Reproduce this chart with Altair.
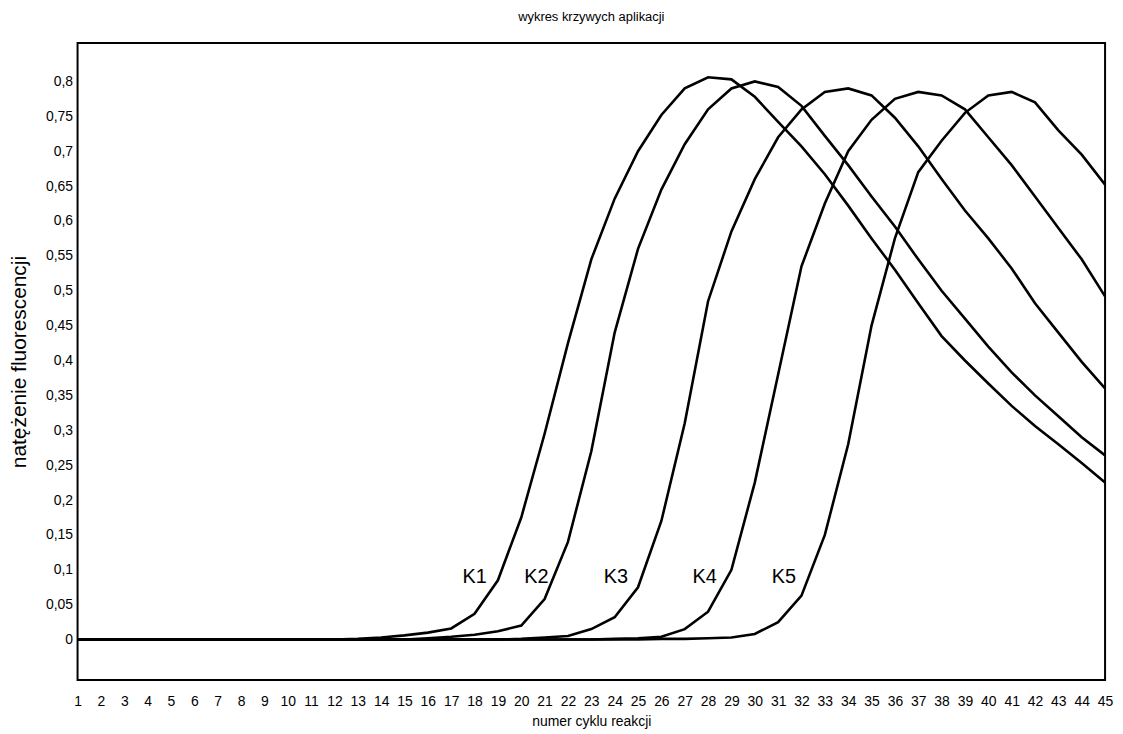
import altair as alt
import pandas as pd

# ---- data ----
cycles = list(range(1, 46))

series_names = ["K1", "K2", "K3", "K4", "K5"]

k1 = [0, 0, 0, 0, 0, 0, 0, 0, 0, 0, 0, 0,
      0.001, 0.003, 0.006, 0.010, 0.016, 0.037, 0.085, 0.175, 0.295, 0.425,
      0.545, 0.632, 0.700, 0.752, 0.790, 0.806, 0.803, 0.778, 0.742, 0.707,
      0.667, 0.622, 0.575, 0.530, 0.482, 0.435, 0.400, 0.367, 0.335, 0.306,
      0.280, 0.253, 0.225]

k2 = [0, 0, 0, 0, 0, 0, 0, 0, 0, 0, 0, 0, 0, 0, 0,
      0.002, 0.004, 0.007, 0.012, 0.020, 0.058, 0.140, 0.270, 0.440, 0.560,
      0.645, 0.710, 0.760, 0.790, 0.800, 0.792, 0.765, 0.722, 0.680, 0.635,
      0.592, 0.545, 0.500, 0.460, 0.420, 0.383, 0.350, 0.320, 0.290, 0.264]

k3 = [0, 0, 0, 0, 0, 0, 0, 0, 0, 0, 0, 0, 0, 0, 0, 0, 0, 0, 0,
      0.001, 0.003, 0.005, 0.015, 0.032, 0.075, 0.170, 0.310, 0.485, 0.585,
      0.660, 0.720, 0.760, 0.785, 0.790, 0.780, 0.748, 0.707, 0.660, 0.615,
      0.575, 0.532, 0.482, 0.440, 0.398, 0.360]

k4 = [0, 0, 0, 0, 0, 0, 0, 0, 0, 0, 0, 0, 0, 0, 0, 0, 0, 0, 0, 0, 0, 0, 0,
      0.001, 0.002, 0.004, 0.015, 0.040, 0.100, 0.225, 0.380, 0.535, 0.625,
      0.700, 0.745, 0.775, 0.785, 0.780, 0.760, 0.720, 0.680, 0.635, 0.590,
      0.545, 0.492]

k5 = [0, 0, 0, 0, 0, 0, 0, 0, 0, 0, 0, 0, 0, 0, 0, 0, 0, 0, 0, 0, 0, 0, 0, 0, 0,
      0.001, 0.001, 0.002, 0.003, 0.008, 0.025, 0.063, 0.150, 0.280, 0.450,
      0.575, 0.670, 0.715, 0.755, 0.780, 0.785, 0.770, 0.730, 0.695, 0.652]

series_widths = [2.6, 2.6, 2.6, 1.2, 2.6]

label_cycles = [18.0, 20.65, 24.05, 27.85, 31.25]
label_values = [0.09, 0.09, 0.09, 0.09, 0.09]

y_ticks = [0, 0.05, 0.1, 0.15, 0.2, 0.25, 0.3, 0.35, 0.4, 0.45,
           0.5, 0.55, 0.6, 0.65, 0.7, 0.75, 0.8]

# ---- build tables ----
rows = []
for name, vals in zip(series_names, [k1, k2, k3, k4, k5]):
    for c, v in zip(cycles, vals):
        rows.append({"series": name, "cycle": c, "value": v})
df = pd.DataFrame(rows)

labels_df = pd.DataFrame({"name": series_names, "cycle": label_cycles, "value": label_values})

FONT = "Liberation Sans"

x_scale = alt.Scale(domain=[1, 45], nice=False, zero=False)
y_scale = alt.Scale(domain=[-0.058, 0.855], nice=False, zero=False)

x_axis = alt.Axis(values=cycles, title="numer cyklu reakcji",
                  labelFontSize=14, labelPadding=15, titlePadding=6,
                  titleFontSize=14, labelFlush=False, labelOverlap=False)
y_axis = alt.Axis(values=y_ticks, title="natężenie fluorescencji",
                  labelExpr="replace(format(datum.value, '~g'), '.', ',')",
                  labelFontSize=14, labelPadding=5, titlePadding=16,
                  titleFontSize=21, labelOverlap=False)

lines = alt.Chart(df).mark_line(color="black", clip=True).encode(
    x=alt.X("cycle:Q", scale=x_scale, axis=x_axis),
    y=alt.Y("value:Q", scale=y_scale, axis=y_axis),
    detail="series:N",
    strokeWidth=alt.StrokeWidth("series:N",
                                scale=alt.Scale(domain=series_names, range=series_widths),
                                legend=None),
)

texts = alt.Chart(labels_df).mark_text(fontSize=20, font=FONT, color="black").encode(
    x=alt.X("cycle:Q", scale=x_scale, axis=x_axis),
    y=alt.Y("value:Q", scale=y_scale, axis=y_axis),
    text="name:N",
)

chart = alt.layer(lines, texts).properties(
    width=1034,
    height=641,
    title=alt.TitleParams("wykres krzywych aplikacji", fontSize=13, fontWeight="normal",
                          font=FONT, color="black", offset=19),
    autosize=alt.AutoSizeParams(type="none"),
    padding={"left": 70, "top": 33, "right": 10, "bottom": 50},
).configure_view(
    stroke="black", strokeWidth=2
).configure_axis(
    domain=False, ticks=False, tickSize=0, grid=False,
    labelFont=FONT, titleFont=FONT, labelColor="black", titleColor="black",
    titleFontWeight="normal"
).configure_axisX(
    labelOverlap=False
)

chart.save("out.html", embed_options={"renderer": "svg", "actions": False})
